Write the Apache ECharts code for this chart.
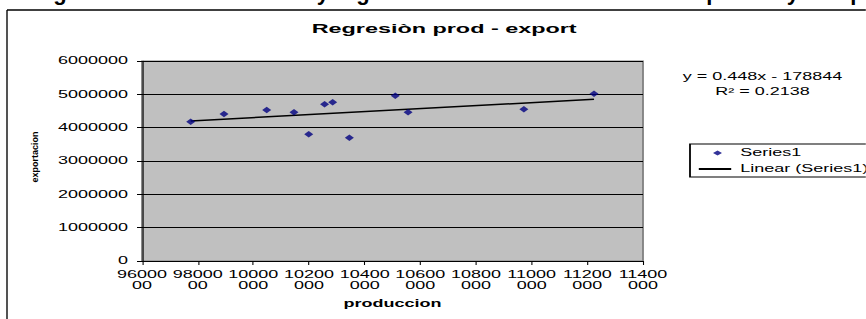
<!DOCTYPE html>
<html>
<head>
<meta charset="utf-8">
<title>Regresiòn prod - export</title>
<script src="https://cdn.jsdelivr.net/npm/echarts@6/dist/echarts.min.js"></script>
<style>
  html, body { margin: 0; padding: 0; background: #fff; overflow: hidden; }
  /* el grafico original esta estirado en horizontal, se dibuja estrecho y se estira */
  #main { height: 319px; transform-origin: 0 0; }
</style>
</head>
<body>
<div id="main"></div>
<script>
// datos
var prodValues = [9775000, 9894600, 10048000, 10146000, 10199000, 10256000, 10285000, 10345000, 10510000, 10556000, 10972000, 11224000];
var exportValues = [4179000, 4410000, 4530000, 4461000, 3801000, 4701000, 4761000, 3699000, 4959000, 4461000, 4551000, 5019000];
var xTickLabels = ['96000\n00', '98000\n00', '10000\n000', '10200\n000', '10400\n000', '10600\n000', '10800\n000', '11000\n000', '11200\n000', '11400\n000'];
var yTickLabels = ['0', '1000000', '2000000', '3000000', '4000000', '5000000', '6000000'];
var trendSlope = 0.448;
var trendIntercept = -178844;
var rSquared = 0.2138;

var xMin = 9600000, xMax = 11400000, xStep = 200000;
var yMin = 0, yMax = 6000000, yStep = 1000000;

var S = 1.8; // estiramiento horizontal
function px(v) { return v / S; }

var font = 'Arial, "Liberation Sans", sans-serif';

var dom = document.getElementById('main');
dom.style.width = px(866) + 'px';
dom.style.transform = 'scaleX(' + S + ')';

var myChart = echarts.init(dom, null, { renderer: 'svg' });

// puntos y recta de tendencia
var points = prodValues.map(function (x, i) { return [x, exportValues[i]]; });
var tx0 = Math.min.apply(null, prodValues);
var tx1 = Math.max.apply(null, prodValues);
var trend = [[tx0, trendSlope * tx0 + trendIntercept], [tx1, trendSlope * tx1 + trendIntercept]];

var eqText = 'y = ' + trendSlope + 'x - ' + Math.abs(trendIntercept);
var r2Text = 'R² = ' + rSquared;

// trozos del titulo de la pagina que quedan cortados arriba
var topGlyphs = [['g', 60], ['y', 323], ['g', 363], ['p', 713], ['y', 793], ['p', 857]];

var graphics = [
    { type: 'line', shape: { x1: px(7), y1: 10, x2: px(900), y2: 10 }, style: { stroke: '#000', lineWidth: 1.3 } },
    { type: 'line', shape: { x1: px(7), y1: 10, x2: px(7), y2: 330 }, style: { stroke: '#000', lineWidth: 0.75 } },
    {
        type: 'text', x: px(34.5), y: 157, rotation: Math.PI / 2, scaleY: 1 / S,
        style: { text: 'exportacion', font: 'bold 9px ' + font, fill: '#000', align: 'center', verticalAlign: 'middle' }
    },
    {
        type: 'text', x: px(762.5), y: 77,
        style: { text: eqText, font: '10px ' + font, fill: '#000', align: 'center', verticalAlign: 'middle' }
    },
    {
        type: 'text', x: px(762.5), y: 92,
        style: { text: r2Text, font: '10px ' + font, fill: '#000', align: 'center', verticalAlign: 'middle' }
    }
];
topGlyphs.forEach(function (g) {
    graphics.push({
        type: 'text', x: px(g[1]), y: -7, scaleX: 1 / S,
        style: { text: g[0], font: 'bold 22px ' + font, fill: '#000', align: 'center', verticalAlign: 'middle' }
    });
});

// icono rombo pequeño dentro de la caja del item de leyenda
var diamondIcon = 'path://M0,0L0,0M18,5L18,5M10.4,0L12.9,2.5L10.4,5L7.9,2.5Z';

var option = {
    animation: false,
    title: {
        text: 'Regresiòn prod - export',
        left: px(311.7),
        top: 22,
        padding: 0,
        textStyle: { fontFamily: font, fontSize: 13, fontWeight: 'bold', color: '#000' }
    },
    legend: {
        orient: 'vertical',
        left: px(690),
        top: 144,
        padding: [3, px(7), 2, px(7)],
        itemWidth: 18,
        itemHeight: 5,
        itemGap: 4,
        symbolKeepAspect: false,
        borderColor: '#000',
        borderWidth: 1,
        backgroundColor: '#fff',
        textStyle: { fontFamily: font, fontSize: 10, color: '#000', lineHeight: 12 },
        data: [
            { name: 'Series1', icon: diamondIcon },
            { name: 'Linear (Series1)', itemStyle: { opacity: 0 } }
        ]
    },
    grid: {
        left: px(142),
        top: 61,
        width: px(501),
        height: 200,
        show: true,
        backgroundColor: '#C0C0C0',
        borderColor: '#808080',
        borderWidth: 1
    },
    xAxis: {
        type: 'value',
        min: xMin,
        max: xMax,
        interval: xStep,
        name: 'produccion',
        nameLocation: 'middle',
        nameGap: 38,
        nameTextStyle: { fontFamily: font, fontSize: 10, fontWeight: 'bold', color: '#000' },
        axisLine: { lineStyle: { color: '#000', width: 0.6 } },
        axisTick: { show: true, length: 4, lineStyle: { color: '#000', width: 0.6 } },
        axisLabel: {
            margin: 8,
            fontFamily: font,
            fontSize: 10,
            lineHeight: 11,
            color: '#000',
            formatter: function (v) { return xTickLabels[Math.round((v - xMin) / xStep)]; }
        },
        splitLine: { show: false }
    },
    yAxis: {
        type: 'value',
        min: yMin,
        max: yMax,
        interval: yStep,
        axisLine: { show: true, lineStyle: { color: '#000', width: 0.6 } },
        axisTick: { show: true, length: px(5), lineStyle: { color: '#000' } },
        axisLabel: {
            margin: px(14),
            fontFamily: font,
            fontSize: 10,
            color: '#000',
            formatter: function (v) { return yTickLabels[Math.round((v - yMin) / yStep)]; }
        },
        splitLine: { show: true, lineStyle: { color: '#000', width: 1 } }
    },
    series: [
        {
            name: 'Series1',
            type: 'scatter',
            symbol: 'diamond',
            symbolSize: [5, 6.5],
            itemStyle: { color: '#000080' },
            data: points,
            z: 3
        },
        {
            name: 'Linear (Series1)',
            type: 'line',
            symbol: 'none',
            lineStyle: { color: '#000', width: 1.5 },
            itemStyle: { color: '#000' },
            data: trend,
            z: 2
        }
    ],
    graphic: graphics
};

myChart.setOption(option);
</script>
</body>
</html>
